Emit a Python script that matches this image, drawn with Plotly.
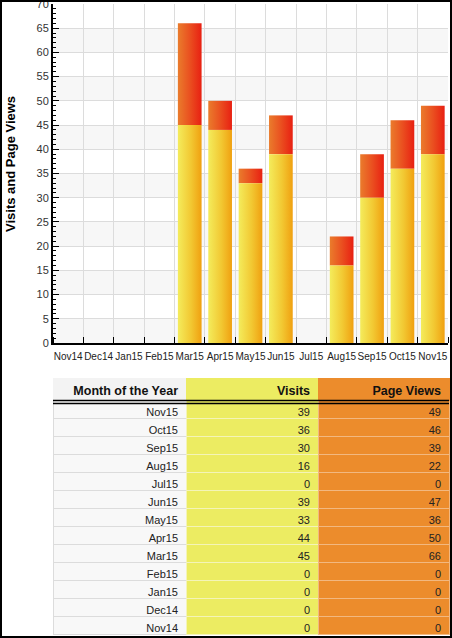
import plotly.graph_objects as go

# monthly data, oldest first (as on the chart axis)
months = ["Nov14", "Dec14", "Jan15", "Feb15", "Mar15", "Apr15", "May15",
          "Jun15", "Jul15", "Aug15", "Sep15", "Oct15", "Nov15"]
visits = [0, 0, 0, 0, 45, 44, 33, 39, 0, 16, 30, 36, 39]
page_views = [0, 0, 0, 0, 66, 50, 36, 47, 0, 22, 39, 46, 49]
y_ticks = list(range(0, 75, 5))

W, H = 452, 638
FONT = "Liberation Sans, Arial, sans-serif"
HALF = 0.39  # half bar width in category units

YELLOW_GRAD = [[0, "#f4ec5c"], [0.55, "#f2c832"], [1, "#f0a010"]]
RED_GRAD = [[0, "#ea7c2c"], [0.5, "#ea5020"], [1, "#e82012"]]


def px_x(p):
    return p / W


def px_y(p):
    return 1 - p / H


def bar_poly(i, y0, y1):
    xs = [i - HALF, i + HALF, i + HALF, i - HALF, i - HALF]
    ys = [y0, y0, y1, y1, y0]
    return xs, ys


fig = go.Figure()

for i, (v, p) in enumerate(zip(visits, page_views)):
    if p > v:
        xs, ys = bar_poly(i, v, p)
        fig.add_trace(go.Scatter(
            x=xs, y=ys, mode="lines", fill="toself",
            line=dict(width=0),
            fillgradient=dict(type="horizontal", colorscale=RED_GRAD),
            hoverinfo="skip", showlegend=False,
        ))
    if v > 0:
        xs, ys = bar_poly(i, 0, v)
        fig.add_trace(go.Scatter(
            x=xs, y=ys, mode="lines", fill="toself",
            line=dict(width=0),
            fillgradient=dict(type="horizontal", colorscale=YELLOW_GRAD),
            hoverinfo="skip", showlegend=False,
        ))

# table, newest month first
t_months = months[::-1]
t_visits = visits[::-1]
t_views = page_views[::-1]

fig.add_trace(go.Table(
    domain=dict(x=[px_x(53), px_x(449)], y=[px_y(637), px_y(378)]),
    columnwidth=[133, 132, 131],
    header=dict(
        values=["Month of the Year", "Visits", "Page Views"],
        fill_color=["#f3f3f3", "#ecec62", "#ec8c2c"],
        line=dict(color=["#f3f3f3", "#ecec62", "#ec8c2c"], width=1),
        align="right",
        height=22,
        font=dict(family=FONT, size=12.5, color="#111111", weight="bold"),
    ),
    cells=dict(
        values=[t_months, t_visits, t_views],
        fill_color=["#f8f8f8", "#ecec62", "#ec8c2c"],
        line=dict(color=["#dcdcdc", "#f4f4b8", "#f2b880"], width=1),
        align="right",
        height=18,
        font=dict(family=FONT, size=11, color="#222222"),
    ),
))

# alternating horizontal bands behind the grid
shapes = []
for y0 in range(0, 70, 10):
    shapes.append(dict(type="rect", xref="x", yref="y", x0=-0.5, x1=len(months) - 0.5,
                       y0=y0, y1=y0 + 5, fillcolor="#f7f7f7", line=dict(width=0),
                       layer="below"))

# double rule under table header
for py in (400.5, 403.5):
    shapes.append(dict(type="line", xref="paper", yref="paper",
                       x0=px_x(53), x1=px_x(449), y0=px_y(py), y1=px_y(py),
                       line=dict(color="black", width=1.5)))

# outer border of the image
shapes.append(dict(type="rect", xref="paper", yref="paper", x0=0, x1=1, y0=0, y1=1,
                   line=dict(color="black", width=4), layer="above"))

fig.update_layout(
    width=W, height=H,
    margin=dict(l=0, r=0, t=0, b=0),
    paper_bgcolor="white",
    plot_bgcolor="white",
    showlegend=False,
    font=dict(family=FONT, color="#333333"),
    shapes=shapes,
    xaxis=dict(
        domain=[px_x(53), px_x(448)],
        range=[-0.5, len(months) - 0.5],
        automargin=False,
        tickmode="array",
        tickvals=list(range(len(months))),
        ticktext=months,
        ticks="",
        tickangle=0,
        ticklabelstandoff=3,
        showgrid=False,
        zeroline=False,
        showline=True, linecolor="black", linewidth=2,
        tickfont=dict(family=FONT, size=10, color="#222222"),
        minor=dict(tickmode="array",
                   tickvals=[i - 0.5 for i in range(len(months) + 1)],
                   ticks="inside", ticklen=6, tickcolor="black", tickwidth=1,
                   showgrid=True, gridcolor="#dcdcdc", gridwidth=1),
        fixedrange=True,
    ),
    yaxis=dict(
        domain=[px_y(343), px_y(4)],
        range=[0, 70],
        automargin=False,
        tickmode="array",
        tickvals=y_ticks,
        ticklabeloverflow="allow",
        ticks="inside", ticklen=6, tickcolor="black", tickwidth=1,
        showgrid=True, gridcolor="#dcdcdc", gridwidth=1,
        zeroline=False,
        showline=True, linecolor="black", linewidth=2,
        tickfont=dict(family=FONT, size=11, color="#333333"),
        minor=dict(dtick=1, ticks="inside", ticklen=3, tickcolor="black",
                   tickwidth=1, showgrid=False),
        fixedrange=True,
    ),
    annotations=[dict(
        text="<b>Visits and Page Views</b>",
        xref="paper", yref="paper",
        x=px_x(10), y=px_y(164),
        xanchor="center", yanchor="middle",
        textangle=-90, showarrow=False,
        font=dict(family=FONT, size=13, color="black"),
    )],
)

# drop the browser's default body margin so the figure fills the window
fig.write_html("out.html", config={"displayModeBar": False},
               post_script="document.body.style.margin='0';")
